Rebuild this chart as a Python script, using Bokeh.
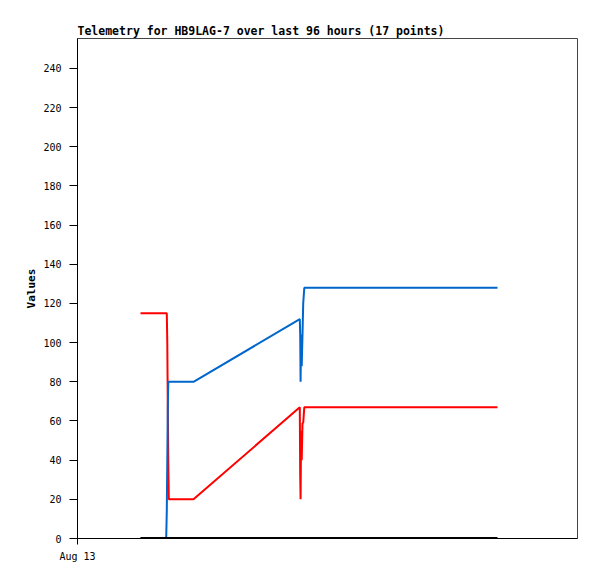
from bokeh.plotting import figure
from bokeh.models import FixedTicker, Range1d
from bokeh.embed import file_html
from bokeh.resources import INLINE

# hours since Aug 13 00:00
hours = [15.12, 21.29, 21.43, 21.55, 21.67, 21.79, 21.91, 27.84, 53.35, 53.45,
         53.54, 53.66, 53.81, 54.00, 54.17, 54.43, 100.8]
red_vals = [115, 115, 115, 100, 67, 40, 20, 20, 67, 32, 20, 55, 40, 59, 59, 67, 67]
blue_vals = [0, 0, 14, 40, 66, 80, 80, 80, 112, 104, 80, 104, 88, 104, 120, 128, 128]
black_vals = [0] * 17
y_ticks = list(range(0, 241, 20))
x_tick_labels = {0: "Aug 13"}

p = figure(width=590, height=572, output_backend="svg", toolbar_location=None,
           x_range=Range1d(0, 120), y_range=Range1d(0, 255.3),
           min_border_left=77, min_border_right=13, min_border_top=38, min_border_bottom=34)
p.title.text = "Telemetry for HB9LAG-7 over last 96 hours (17 points)"
p.title.text_font = "DejaVu Sans Mono"
p.title.text_font_size = "11.5px"
p.title.text_font_style = "bold"
p.title.text_color = "#000000"
p.title.offset = 0
p.title.standoff = 2

p.line(hours, red_vals, line_color="#ff0000", line_width=2)
p.line(hours, blue_vals, line_color="#0066cc", line_width=2)
p.line(hours, black_vals, line_color="#000000", line_width=3)

p.xgrid.visible = False
p.ygrid.visible = False
p.outline_line_color = "#444444"
p.outline_line_width = 1

p.yaxis.ticker = FixedTicker(ticks=y_ticks)
p.yaxis.minor_tick_line_color = None
p.yaxis.major_tick_out = 8
p.yaxis.major_tick_in = 0
p.yaxis.major_tick_line_color = "#000000"
p.yaxis.major_label_standoff = 8
p.yaxis.major_label_text_font = "DejaVu Sans Mono"
p.yaxis.major_label_text_font_size = "10px"
p.yaxis.major_label_text_color = "#000000"
p.yaxis.axis_label = "Values"
p.yaxis.axis_label_text_font = "DejaVu Sans Mono"
p.yaxis.axis_label_text_font_size = "11px"
p.yaxis.axis_label_text_font_style = "bold"
p.yaxis.axis_label_text_color = "#000000"
p.yaxis.axis_label_standoff = 2
p.yaxis.axis_line_color = "#000000"

p.xaxis.ticker = FixedTicker(ticks=list(x_tick_labels.keys()))
p.xaxis.major_label_overrides = x_tick_labels
p.xaxis.minor_tick_line_color = None
p.xaxis.major_tick_out = 6
p.xaxis.major_tick_in = 0
p.xaxis.major_tick_line_color = "#000000"
p.xaxis.major_label_standoff = 6
p.xaxis.major_label_text_font = "DejaVu Sans Mono"
p.xaxis.major_label_text_font_size = "10px"
p.xaxis.major_label_text_color = "#000000"
p.xaxis.axis_line_color = "#000000"

open("out.html", "w").write(file_html(p, INLINE))
